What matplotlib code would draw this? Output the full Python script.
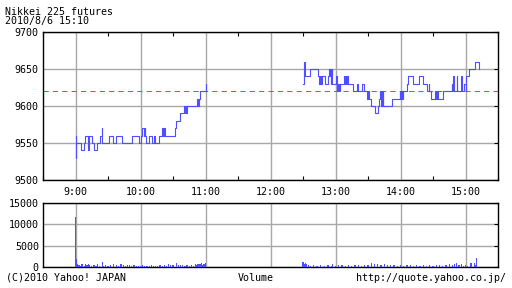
import numpy as np
import matplotlib
matplotlib.use("Agg")
import matplotlib.pyplot as plt

# price change points: minutes after 9:00, price (step plot)
am_min = [0, 0.1, 0.5, 5.5, 7.4, 9.2, 11.1, 12.9, 14.8, 17.5, 20.3, 22.2, 24, 24.9,
          30.5, 34.2, 37.8, 42.5, 52.6, 58.2, 60.9, 61.8, 63.5, 64, 64.5, 65.5,
          68.3, 70.2, 72, 73.8, 77.5, 80.3, 81, 81.5, 82.5, 91.4, 93.2, 96, 100.6,
          101.2, 101.8, 102.4, 103, 112.6, 113.2, 113.8, 114.5, 120, 120.4]
am_price = [9560, 9530, 9550, 9540, 9550, 9560, 9540, 9560, 9550, 9540, 9550, 9560, 9570, 9550,
            9560, 9550, 9560, 9550, 9560, 9550, 9560, 9570, 9560, 9570, 9560, 9550,
            9560, 9550, 9560, 9550, 9560, 9570, 9560, 9570, 9560, 9570, 9580, 9590, 9600,
            9590, 9600, 9590, 9600, 9610, 9600, 9610, 9620, 9630, 9630]

pm_min = [210, 210.5, 211.4, 216.9, 223.4, 225, 225.5, 226, 226.5, 227, 227.5, 230, 233,
          234, 234.5, 235, 235.5, 236, 236.5, 237.2, 240, 241, 241.5, 242, 242.5, 243,
          243.5, 244, 244.5, 248.3, 249, 249.5, 250, 250.5, 251.2, 255.7, 260.3, 261,
          264.9, 266, 269.5, 270.2, 270.8, 273.2, 276, 278.8, 280, 281.5, 282, 282.5,
          283, 283.5, 284.2, 291.7, 299.1, 299.6, 300.2, 300.8, 301.4, 302, 302.6, 306,
          307, 311.1, 317.5, 321.2, 324, 326, 326.5, 328.6, 332.3, 333, 334, 334.8,
          338.8, 347.1, 347.5, 348, 349.8, 351.7, 352.6, 356.3, 357.2, 359, 360, 360.5,
          362.8, 369.2, 372]
pm_price = [9630, 9660, 9640, 9650, 9640, 9630, 9640, 9630, 9640, 9630, 9640, 9630, 9640,
            9650, 9640, 9650, 9630, 9640, 9650, 9630, 9640, 9620, 9630, 9620, 9630, 9620,
            9630, 9620, 9630, 9640, 9630, 9640, 9630, 9640, 9630, 9620, 9630, 9620,
            9630, 9620, 9610, 9620, 9610, 9600, 9590, 9600, 9610, 9620, 9600, 9620,
            9600, 9620, 9600, 9610, 9620, 9610, 9620, 9610, 9620, 9610, 9620, 9630,
            9640, 9630, 9640, 9630, 9620, 9630, 9620, 9610, 9620, 9610, 9620, 9610,
            9620, 9630, 9620, 9640, 9620, 9640, 9620, 9640, 9620, 9630, 9620, 9640,
            9650, 9660, 9650]

prev_close = 9620

# volume per minute (minutes after 9:00)
vol_min = [0, 1, 2, 3, 4, 5, 6, 8, 9, 10, 11, 12, 13, 15, 17, 19, 20, 22, 25, 26, 28, 30,
           32, 35, 38, 40, 42, 44, 46, 48, 50, 52, 54, 56, 58, 60, 62, 64, 66, 68, 70, 72,
           74, 76, 78, 80, 82, 84, 86, 88, 90, 93, 95, 97, 99, 101, 103, 105, 107, 109,
           111, 112, 113, 114, 115, 116, 117, 118, 119, 120,
           210, 211, 212, 213, 215, 217, 220, 223, 226, 230, 233, 236, 237, 240, 243, 246,
           249, 252, 255, 258, 261, 264, 267, 270, 273, 276, 279, 282, 285, 288, 291,
           294, 297, 300, 303, 306, 309, 312, 315, 318, 321, 324, 327, 330, 333, 336,
           339, 342, 345, 348, 350, 352, 354, 356, 358, 360, 362, 365, 368, 369, 370]
vol = [11700, 1800, 600, 400, 500, 300, 700, 300, 600, 500, 400, 700, 500, 300, 400, 300,
       600, 300, 1200, 300, 400, 300, 500, 700, 400, 300, 700, 500, 300, 500, 400, 300,
       500, 300, 200, 300, 400, 300, 200, 300, 400, 300, 200, 300, 400, 300, 500, 300,
       600, 400, 500, 1000, 500, 400, 500, 300, 400, 300, 400, 300, 600, 500, 800, 400,
       700, 900, 500, 600, 800, 900,
       1200, 800, 900, 600, 500, 300, 400, 300, 500, 300, 400, 300, 700, 300, 500, 400,
       300, 400, 300, 500, 400, 300, 500, 400, 1000, 600, 700, 500, 600, 400, 500,
       400, 300, 400, 300, 500, 400, 300, 400, 300, 500, 300, 400, 300, 500, 400,
       300, 400, 600, 500, 700, 900, 500, 600, 300, 400, 300, 900, 1000, 500, 2200]

blue = "#4f4fff"
grid_c = "#a8a8a8"
plt.rcParams["font.family"] = ["DejaVu Sans Mono"]
plt.rcParams["font.size"] = 7.2

fig = plt.figure(figsize=(5.12, 2.88), dpi=100)
ax = fig.add_axes([43/512, 1-180/288, 455/512, 148/288])
axv = fig.add_axes([43/512, 1-267/288, 455/512, 64/288])

def hours(m):
    return 9 + np.asarray(m, dtype=float)/60.0

ax.axhline(prev_close, color="#e04848", lw=0.75, ls=(0, (5, 4)), zorder=2)
ax.step(hours(am_min), am_price, where="post", color=blue, lw=0.8, zorder=3)
ax.step(hours(pm_min), pm_price, where="post", color=blue, lw=0.8, zorder=3)
axv.bar(hours(vol_min), vol, width=1.1/60, color=blue, lw=0, align="center", zorder=3)

for a in (ax, axv):
    a.set_xlim(8.5, 15.5)
    a.set_xticks(range(9, 16))
    a.grid(True, which="major", color=grid_c, lw=1.0, zorder=1)
    a.tick_params(which="both", direction="in", left=False, right=True, length=3,
                  width=0.8, pad=3)
    a.tick_params(which="major", axis="x", length=0)
    for s in a.spines.values():
        s.set_linewidth(1.0)

ax.set_xticks(np.arange(8.5, 15.6, 1.0), minor=True)
ax.tick_params(which="minor", axis="x", top=True, bottom=True, length=3)
ax.set_ylim(9500, 9700)
ax.set_yticks(np.arange(9500, 9701, 50))
ax.set_xticklabels([f"{h}:00" for h in range(9, 16)])
ax.tick_params(axis="x", pad=5)

axv.set_ylim(0, 15000)
axv.set_yticks([0, 5000, 10000, 15000])
axv.set_xticklabels([])

fig.text(5/512, 1-12/288, "Nikkei 225 futures", va="center", ha="left")
fig.text(5/512, 1-21/288, "2010/8/6 15:10", va="center", ha="left")
fig.text(6/512, 1-278/288, "(C)2010 Yahoo! JAPAN", va="center", ha="left")
fig.text(256/512, 1-278/288, "Volume", va="center", ha="center")
fig.text(506/512, 1-278/288, "http://quote.yahoo.co.jp/", va="center", ha="right")

fig.savefig("out.png", dpi=100)
